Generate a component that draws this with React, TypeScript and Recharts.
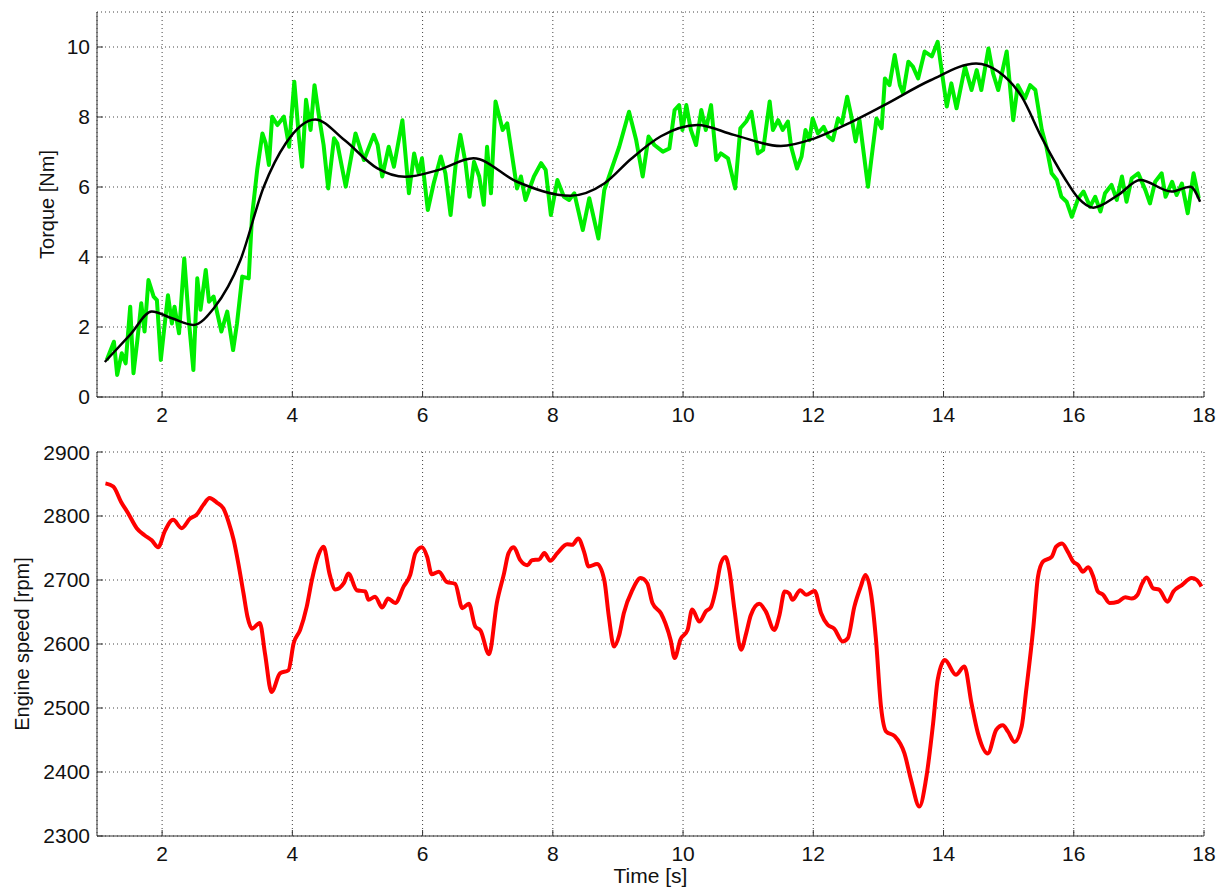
import React from "react";
import {
  LineChart,
  Line,
  XAxis,
  YAxis,
  CartesianGrid,
  Label,
} from "recharts";

// time axis ticks (shared)
const timeTicks = [2, 4, 6, 8, 10, 12, 14, 16, 18];
const torqueTicks = [0, 2, 4, 6, 8, 10];
const speedTicks = [2300, 2400, 2500, 2600, 2700, 2800, 2900];

// measured torque (noisy, green)
const torqueTime = [
  1.15, 1.26, 1.31, 1.38, 1.44, 1.51, 1.56, 1.62, 1.68, 1.73, 1.79, 1.87, 1.92, 1.98,
  2.03, 2.09, 2.15, 2.19, 2.26, 2.34, 2.41, 2.48, 2.54, 2.59, 2.67, 2.72, 2.79, 2.91,
  3.0, 3.09, 3.15, 3.23, 3.33, 3.38, 3.46, 3.54, 3.59, 3.64, 3.69, 3.77, 3.87, 3.95,
  4.03, 4.1, 4.15, 4.21, 4.28, 4.34, 4.41, 4.48, 4.55, 4.64, 4.69, 4.82, 4.97,
  5.1, 5.25, 5.31, 5.38, 5.48, 5.56, 5.69, 5.79, 5.87, 5.94, 5.99,
  6.08, 6.17, 6.28, 6.35, 6.43, 6.51, 6.58, 6.66, 6.72, 6.79, 6.87, 6.94, 6.99,
  7.05, 7.12, 7.23, 7.3, 7.45, 7.51, 7.58, 7.71, 7.82, 7.89, 7.97,
  8.07, 8.17, 8.25, 8.33, 8.46, 8.56, 8.7, 8.79, 8.87,
  9.02, 9.17, 9.28, 9.38, 9.47, 9.56, 9.69, 9.79, 9.87, 9.94, 9.99,
  10.05, 10.12, 10.2, 10.28, 10.35, 10.43, 10.51, 10.58, 10.69, 10.8, 10.88, 10.97,
  11.05, 11.15, 11.23, 11.33, 11.38, 11.46, 11.53, 11.61, 11.66, 11.75, 11.82, 11.88, 11.94, 11.99,
  12.07, 12.16, 12.23, 12.3, 12.38, 12.44, 12.52, 12.58, 12.65, 12.71, 12.84, 12.89, 12.97,
  13.05, 13.1, 13.17, 13.25, 13.33, 13.38, 13.46, 13.53, 13.61, 13.71, 13.82, 13.91, 13.97,
  14.05, 14.12, 14.2, 14.33, 14.43, 14.51, 14.58, 14.69, 14.76, 14.84, 14.97,
  15.07, 15.14, 15.25, 15.33, 15.41, 15.51, 15.58, 15.66, 15.74, 15.81, 15.89, 15.97,
  16.07, 16.15, 16.25, 16.33, 16.41, 16.48, 16.58, 16.66, 16.74, 16.81, 16.89, 16.99,
  17.1, 17.17, 17.25, 17.35, 17.41, 17.51, 17.58, 17.66, 17.75, 17.84, 17.92,
];
const torqueRaw = [
  1.06, 1.58, 0.63, 1.25, 0.96, 2.58, 0.68, 1.63, 2.68, 1.87, 3.34, 2.87, 2.77, 1.06,
  1.91, 2.91, 2.1, 2.58, 1.82, 3.96, 2.2, 0.77, 3.39, 2.49, 3.63, 2.72, 2.87, 1.87,
  2.44, 1.34, 2.1, 3.44, 3.39, 5.15, 6.49, 7.53, 7.25, 6.63, 8.01, 7.77, 8.01, 7.15,
  9.01, 7.44, 6.58, 8.49, 7.63, 8.91, 8.01, 7.2, 5.96, 7.39, 7.25, 6.01, 7.53,
  6.77, 7.49, 7.2, 6.3, 7.15, 6.58, 7.91, 5.82, 6.96, 6.39, 6.82,
  5.34, 6.1, 6.87, 6.39, 5.2, 6.68, 7.49, 6.68, 5.72, 6.72, 6.3, 5.49, 7.15,
  5.82, 8.44, 7.63, 7.82, 5.96, 6.3, 5.63, 6.3, 6.68, 6.49, 5.2,
  6.2, 5.72, 5.63, 5.82, 4.77, 5.68, 4.53, 5.91, 6.34,
  7.15, 8.15, 7.34, 6.3, 7.44, 7.2, 7.01, 7.1, 8.2, 8.34, 7.63,
  8.34, 7.63, 7.2, 8.2, 7.63, 8.34, 6.77, 6.96, 6.82, 5.96, 7.68, 7.87,
  8.15, 6.96, 7.06, 8.44, 7.63, 7.91, 7.63, 7.87, 7.15, 6.53, 6.87, 7.63, 7.34, 7.96,
  7.53, 7.72, 7.44, 7.34, 7.96, 7.82, 8.58, 8.06, 7.3, 7.91, 6.01, 6.77, 7.96,
  7.68, 9.1, 8.91, 9.77, 8.91, 8.68, 9.58, 9.44, 9.1, 9.87, 9.73, 10.15, 9.34,
  8.3, 8.96, 8.25, 9.44, 8.77, 9.34, 8.77, 9.96, 9.25, 8.77, 9.87,
  7.91, 8.91, 8.53, 8.91, 8.77, 7.63, 7.15, 6.39, 6.2, 5.72, 5.58, 5.15,
  5.68, 5.87, 5.44, 5.72, 5.3, 5.82, 6.06, 5.63, 6.3, 5.58, 6.25, 6.39,
  5.91, 5.53, 6.15, 6.39, 5.72, 6.15, 5.77, 6.1, 5.25, 6.39, 5.68,
];

// smoothed torque (black)
const fitTime = [
  1.12, 1.51, 1.84, 2.15, 2.48, 2.8, 3.2, 3.56, 3.9, 4.35, 4.8, 5.3, 5.73, 6.25,
  6.78, 7.45, 8.27, 8.79, 9.2, 9.66, 10.22, 10.78, 11.5, 12.02, 12.5, 13.09, 13.8,
  14.5, 14.84, 15.2, 15.5, 15.86, 16.07, 16.3, 16.68, 17.02, 17.5, 17.79, 17.94,
];
const fitTorque = [
  1.0, 1.78, 2.44, 2.25, 2.06, 2.55, 3.9, 6.0, 7.25, 7.93, 7.34, 6.54, 6.29, 6.49,
  6.82, 6.15, 5.75, 6.1, 6.8, 7.45, 7.77, 7.49, 7.17, 7.39, 7.78, 8.34, 9.05,
  9.53, 9.3, 8.58, 7.44, 6.25, 5.68, 5.41, 5.77, 6.2, 5.87, 6.01, 5.58,
];

// engine speed (red)
const speedTime = [
  1.13, 1.25, 1.37, 1.48, 1.61, 1.73, 1.84, 1.94, 2.04, 2.17, 2.3, 2.43, 2.53, 2.63,
  2.73, 2.84, 2.94, 3.02, 3.1, 3.17, 3.25, 3.31, 3.38, 3.5, 3.58, 3.68, 3.81, 3.94,
  4.02, 4.12, 4.22, 4.3, 4.4, 4.48, 4.57, 4.66, 4.79, 4.86, 4.99, 5.12, 5.17, 5.27,
  5.38, 5.47, 5.58, 5.71, 5.81, 5.89, 5.99, 6.07, 6.14, 6.25, 6.37, 6.5, 6.61, 6.71,
  6.81, 6.89, 7.02, 7.14, 7.25, 7.32, 7.4, 7.5, 7.61, 7.68, 7.79, 7.87, 7.96, 8.07,
  8.22, 8.3, 8.39, 8.48, 8.55, 8.68, 8.79, 8.86, 8.94, 9.02, 9.09, 9.22, 9.35, 9.45,
  9.53, 9.66, 9.73, 9.81, 9.87, 9.96, 10.07, 10.14, 10.25, 10.35, 10.43, 10.5, 10.58,
  10.65, 10.71, 10.79, 10.89, 10.97, 11.04, 11.17, 11.27, 11.4, 11.48, 11.56, 11.63,
  11.68, 11.8, 11.89, 12.02, 12.12, 12.22, 12.32, 12.45, 12.53, 12.63, 12.73, 12.8,
  12.89, 12.96, 13.04, 13.12, 13.25, 13.4, 13.5, 13.63, 13.73, 13.84, 13.91, 14.02,
  14.19, 14.32, 14.43, 14.53, 14.68, 14.81, 14.91, 14.99, 15.09, 15.2, 15.27, 15.38,
  15.45, 15.53, 15.66, 15.73, 15.82, 15.91, 15.99, 16.07, 16.14, 16.22, 16.3, 16.37,
  16.45, 16.55, 16.68, 16.79, 16.89, 16.98, 17.04, 17.12, 17.22, 17.31, 17.44, 17.53,
  17.66, 17.81, 17.89, 17.96,
];
const speedRpm = [
  2851, 2846, 2822, 2804, 2781, 2770, 2762, 2751, 2776, 2794, 2781, 2796, 2802, 2817,
  2828, 2821, 2812, 2791, 2762, 2726, 2679, 2643, 2624, 2633, 2585, 2525, 2554, 2559,
  2601, 2622, 2658, 2700, 2739, 2752, 2710, 2685, 2695, 2710, 2684, 2682, 2669, 2674,
  2657, 2671, 2664, 2690, 2708, 2742, 2751, 2736, 2709, 2713, 2697, 2694, 2656, 2663,
  2627, 2621, 2584, 2664, 2710, 2742, 2751, 2731, 2723, 2731, 2732, 2742, 2730, 2742,
  2756, 2755, 2765, 2744, 2721, 2725, 2700, 2643, 2596, 2614, 2648, 2684, 2703, 2695,
  2664, 2648, 2632, 2606, 2578, 2607, 2622, 2654, 2635, 2651, 2658, 2684, 2726,
  2736, 2716, 2653, 2591, 2617, 2645, 2663, 2651, 2622, 2645, 2682, 2679,
  2669, 2684, 2677, 2683, 2648, 2630, 2624, 2604, 2609, 2658, 2690, 2708,
  2676, 2610, 2502, 2463, 2456, 2429, 2388, 2346, 2388, 2476, 2544, 2575,
  2552, 2565, 2507, 2460, 2429, 2466, 2473, 2463, 2447, 2471, 2528, 2627,
  2705, 2729, 2736, 2752, 2757, 2744, 2729, 2723, 2713, 2720, 2705, 2682,
  2677, 2664, 2666, 2673, 2671, 2677, 2692, 2704, 2687, 2685, 2666, 2682,
  2692, 2703, 2700, 2690,
];

const rawData = torqueTime.map((t, i) => ({ t, v: torqueRaw[i] }));
const fitData = fitTime.map((t, i) => ({ t, v: fitTorque[i] }));
const speedData = speedTime.map((t, i) => ({ t, v: speedRpm[i] }));

const FONT = '"Liberation Sans", Arial, sans-serif';
const FS = 21;
const BOX = "#333";

const tickStyle = { fill: "#111", fontSize: FS, fontFamily: FONT };

const yTitle = (text: string, cx: number) => (props: any) => {
  const vb = props.viewBox || {};
  const cy = vb.y + vb.height / 2;
  return (
    <text
      x={cx}
      y={cy}
      transform={`rotate(-90, ${cx}, ${cy})`}
      textAnchor="middle"
      dominantBaseline="central"
      fill="#111"
      fontSize={FS - 1}
      fontFamily={FONT}
    >
      {text}
    </text>
  );
};

const xTitle = (text: string) => (props: any) => {
  const vb = props.viewBox || {};
  return (
    <text
      x={vb.x + vb.width / 2}
      y={vb.y + 47}
      textAnchor="middle"
      fill="#111"
      fontSize={FS}
      fontFamily={FONT}
    >
      {text}
    </text>
  );
};

// box frame: mirrored top / right axes with inward ticks, no labels
const frameAxes = (yDomain: number[], yTicks: number[]) => [
  <XAxis
    key="top"
    xAxisId="top"
    orientation="top"
    type="number"
    dataKey="t"
    domain={[1, 18]}
    ticks={timeTicks}
    allowDataOverflow
    height={0}
    tick={false}
    tickSize={-6}
    stroke={BOX}
  />,
  <YAxis
    key="right"
    yAxisId="right"
    orientation="right"
    type="number"
    domain={yDomain}
    ticks={yTicks}
    allowDataOverflow
    width={0}
    tick={false}
    tickSize={-6}
    stroke={BOX}
  />,
];

export default function App() {
  return (
    <div
      style={{
        position: "absolute",
        left: 0,
        top: 0,
        width: 1227,
        height: 892,
        background: "#fff",
      }}
    >
      {/* Torque panel */}
      <div style={{ position: "absolute", left: 0, top: 0 }}>
        <LineChart
          width={1227}
          height={440}
          margin={{ top: 12, right: 23, left: 0, bottom: 0 }}
        >
          <CartesianGrid stroke="#444" strokeDasharray="1 3" />
          <XAxis
            type="number"
            dataKey="t"
            domain={[1, 18]}
            ticks={timeTicks}
            allowDataOverflow
            height={43}
            tickSize={-6}
            tickMargin={16}
            stroke={BOX}
            tick={tickStyle}
          />
          <YAxis
            type="number"
            domain={[0, 11]}
            ticks={torqueTicks}
            allowDataOverflow
            width={97}
            tickSize={-6}
            tickMargin={13}
            stroke={BOX}
            tick={tickStyle}
          >
            <Label content={yTitle("Torque [Nm]", 47)} />
          </YAxis>
          {frameAxes([0, 11], torqueTicks)}
          <Line
            data={rawData}
            dataKey="v"
            type="linear"
            stroke="#00ee00"
            strokeWidth={4}
            strokeLinejoin="round"
            dot={false}
            activeDot={false}
            isAnimationActive={false}
          />
          <Line
            data={fitData}
            dataKey="v"
            type="monotone"
            stroke="#000"
            strokeWidth={2.5}
            dot={false}
            activeDot={false}
            isAnimationActive={false}
          />
        </LineChart>
      </div>

      {/* Engine speed panel */}
      <div style={{ position: "absolute", left: 0, top: 440 }}>
        <LineChart
          width={1227}
          height={452}
          margin={{ top: 12, right: 23, left: 0, bottom: 0 }}
        >
          <CartesianGrid stroke="#444" strokeDasharray="1 3" />
          <XAxis
            type="number"
            dataKey="t"
            domain={[1, 18]}
            ticks={timeTicks}
            allowDataOverflow
            height={56}
            tickSize={-6}
            tickMargin={16}
            stroke={BOX}
            tick={tickStyle}
          >
            <Label content={xTitle("Time [s]")} />
          </XAxis>
          <YAxis
            type="number"
            domain={[2300, 2900]}
            ticks={speedTicks}
            allowDataOverflow
            width={97}
            tickSize={-6}
            tickMargin={13}
            stroke={BOX}
            tick={tickStyle}
          >
            <Label content={yTitle("Engine speed [rpm]", 22)} />
          </YAxis>
          {frameAxes([2300, 2900], speedTicks)}
          <Line
            data={speedData}
            dataKey="v"
            type="monotone"
            stroke="#ff0000"
            strokeWidth={4}
            strokeLinejoin="round"
            dot={false}
            activeDot={false}
            isAnimationActive={false}
          />
        </LineChart>
      </div>
    </div>
  );
}
